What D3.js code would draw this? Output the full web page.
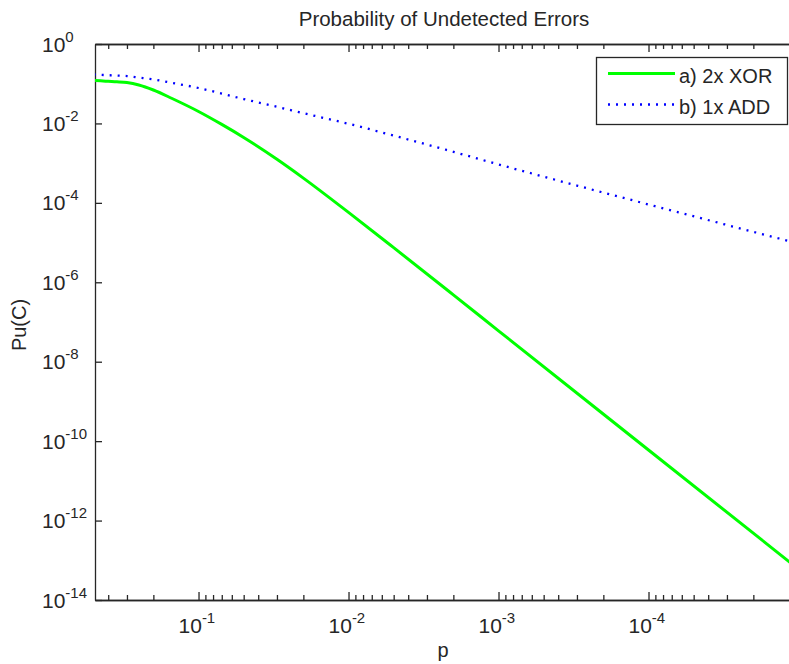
<!DOCTYPE html>
<html>
<head>
<meta charset="utf-8">
<script src="https://cdn.jsdelivr.net/npm/d3@7"></script>
<style>
    body { margin: 0; background: #fff; }
    svg { display: block; font-family: "Liberation Sans", Arial, sans-serif; }
</style>
</head>
<body>
<div id="chart-area"></div>
<script>
// probabilidade de erro de bit p (eixo x)
const pValues = [0.5, 0.45, 0.4, 0.35, 0.3, 0.25, 0.2, 0.15, 0.1, 0.07, 0.05, 0.03, 0.02, 0.01, 0.005, 0.002, 0.001, 1e-4, 1e-5];
// a) 2x XOR
const xorValues = [0.12, 0.118, 0.115, 0.112, 0.107, 0.093, 0.0695, 0.0424, 0.020, 0.00944, 0.00443, 0.00125, 4.2e-4, 5.75e-5, 7.45e-6, 4.82e-7, 6.0e-8, 6.0e-11, 6.0e-14];
// b) 1x ADD
const addValues = [0.17, 0.167, 0.164, 0.161, 0.156, 0.143, 0.128, 0.105, 0.078, 0.0564, 0.0412, 0.0262, 0.0181, 0.0098, 4.94e-3, 1.93e-3, 9.3e-4, 9.1e-5, 9.5e-6];
// nomes das séries
const seriesNames = ['a) 2x XOR', 'b) 1x ADD'];
// marcações dos eixos
const xTickValues = [1e-1, 1e-2, 1e-3, 1e-4];
const yTickValues = [1, 1e-2, 1e-4, 1e-6, 1e-8, 1e-10, 1e-12, 1e-14];

drawChart();

function drawChart() {
    const width = 789;
    const height = 664;
    const left = 95, right = 798.5, top = 44, bottom = 600;

    const svgElement = d3.select('#chart-area').append('svg')
        .attr('width', width)
        .attr('height', height);

    svgElement.append('rect')
        .attr('width', width)
        .attr('height', height)
        .attr('fill', '#fff');

    //escalas log, eixo x invertido
    const xScale = d3.scaleLog().domain([0.49, 1e-5]).range([left, right]);
    const yScale = d3.scaleLog().domain([1, 1e-14]).range([top, bottom]);

    svgElement.append('clipPath').attr('id', 'plot-clip')
        .append('rect')
        .attr('x', left).attr('y', top)
        .attr('width', right - left).attr('height', bottom - top);

    //ticks menores do eixo x (2..9 em cada década)
    const minorTicks = [];
    for (let k = 0; k >= -5; k--) {
        for (let m = 2; m <= 9; m++) {
            const v = m * Math.pow(10, k);
            if (v < 0.49 && v > 1e-5) minorTicks.push(v);
        }
    }

    const axisColor = '#262626';

    function styleAxis(g) {
        g.attr('color', axisColor);
        g.select('.domain').attr('stroke-width', 1.3);
        g.selectAll('.tick line').attr('stroke-width', 1.3);
        g.selectAll('.tick text').remove();
    }

    //eixo de baixo e de cima
    [[d3.axisBottom, bottom], [d3.axisTop, top]].forEach(([axisFn, y]) => {
        svgElement.append('g')
            .attr('transform', `translate(0, ${y})`)
            .call(axisFn(xScale).tickValues(minorTicks).tickSizeInner(-5).tickSizeOuter(0).tickFormat(''))
            .call(styleAxis);
        svgElement.append('g')
            .attr('transform', `translate(0, ${y})`)
            .call(axisFn(xScale).tickValues(xTickValues).tickSizeInner(-8).tickSizeOuter(0).tickFormat(''))
            .call(styleAxis);
    });

    //eixo da esquerda e da direita
    [[d3.axisLeft, left], [d3.axisRight, right]].forEach(([axisFn, x]) => {
        svgElement.append('g')
            .attr('transform', `translate(${x}, 0)`)
            .call(axisFn(yScale).tickValues(yTickValues).tickSizeInner(-7).tickSizeOuter(0).tickFormat(''))
            .call(styleAxis);
    });

    //textos dos ticks no formato 10^n
    const expo = d => Math.round(Math.log10(d));

    svgElement.append('g').selectAll('text')
        .data(xTickValues)
        .enter()
        .append('text')
        .attr('x', d => xScale(d) - 20)
        .attr('y', 633)
        .attr('font-size', '21px')
        .attr('fill', axisColor)
        .text('10')
        .append('tspan')
        .attr('dy', -10)
        .attr('font-size', '15px')
        .text(d => expo(d));

    svgElement.append('g').selectAll('text')
        .data(yTickValues)
        .enter()
        .append('text')
        .attr('x', 42)
        .attr('y', d => yScale(d) + 7.5)
        .attr('font-size', '21px')
        .attr('fill', axisColor)
        .text('10')
        .append('tspan')
        .attr('dy', -10)
        .attr('font-size', '15px')
        .text(d => expo(d));

    //título e rótulos dos eixos
    svgElement.append('text')
        .attr('x', 444)
        .attr('y', 26)
        .attr('text-anchor', 'middle')
        .attr('font-size', '20.5px')
        .attr('fill', axisColor)
        .text('Probability of Undetected Errors');

    svgElement.append('text')
        .attr('x', 443)
        .attr('y', 657)
        .attr('text-anchor', 'middle')
        .attr('font-size', '20px')
        .attr('fill', axisColor)
        .text('p');

    svgElement.append('text')
        .attr('transform', 'translate(26, 325) rotate(-90)')
        .attr('text-anchor', 'middle')
        .attr('font-size', '20px')
        .attr('fill', axisColor)
        .text('Pu(C)');

    //linhas das séries
    const line = d3.line()
        .x(d => xScale(d.p))
        .y(d => yScale(d.v))
        .curve(d3.curveMonotoneX);

    const xorData = pValues.map((p, i) => ({ p: p, v: xorValues[i] }));
    const addData = pValues.map((p, i) => ({ p: p, v: addValues[i] }));

    const plot = svgElement.append('g').attr('clip-path', 'url(#plot-clip)');

    plot.append('path')
        .datum(xorData)
        .attr('d', line)
        .attr('fill', 'none')
        .attr('stroke', '#00ff00')
        .attr('stroke-width', 3);

    plot.append('path')
        .datum(addData)
        .attr('d', line)
        .attr('fill', 'none')
        .attr('stroke', '#0000ff')
        .attr('stroke-width', 2.3)
        .attr('stroke-dasharray', '2 6');

    //legenda
    const legend = svgElement.append('g');

    legend.append('rect')
        .attr('x', 596.5)
        .attr('y', 57.5)
        .attr('width', 191)
        .attr('height', 67)
        .attr('fill', '#fff')
        .attr('stroke', axisColor)
        .attr('stroke-width', 1.3);

    const legendRows = [
        { name: seriesNames[0], y: 73.5, color: '#00ff00', width: 3, dash: null },
        { name: seriesNames[1], y: 104.5, color: '#0000ff', width: 2.3, dash: '2 6' }
    ];

    legendRows.forEach(row => {
        legend.append('line')
            .attr('x1', 608).attr('x2', 675)
            .attr('y1', row.y).attr('y2', row.y)
            .attr('stroke', row.color)
            .attr('stroke-width', row.width)
            .attr('stroke-dasharray', row.dash);
        legend.append('text')
            .attr('x', 679)
            .attr('y', row.y + 9)
            .attr('font-size', '20px')
            .attr('fill', axisColor)
            .text(row.name);
    });
}
</script>
</body>
</html>
